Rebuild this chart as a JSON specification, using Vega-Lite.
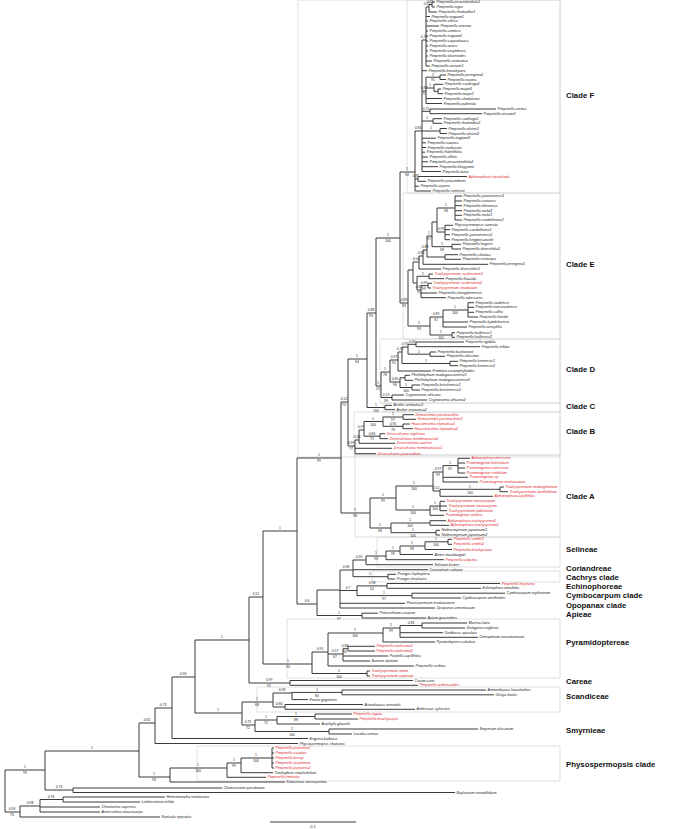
{
"$schema":"https://vega.github.io/schema/vega-lite/v6.json",
"width":685,"height":829,"autosize":"none","padding":0,"background":"white",
"config":{"view":{"stroke":null},"font":"Liberation Sans"},
"datasets":{
"bx":[
{"x":298,"x2":560,"y":0,"y2":457},
{"x":407,"x2":560,"y":0,"y2":193},
{"x":403,"x2":560,"y":193,"y2":339},
{"x":380,"x2":560,"y":339,"y2":403},
{"x":383,"x2":560,"y":403,"y2":412},
{"x":354,"x2":560,"y":412,"y2":455},
{"x":355,"x2":560,"y":455,"y2":537},
{"x":377,"x2":560,"y":537,"y2":567},
{"x":372,"x2":560,"y":571,"y2":582},
{"x":287,"x2":560,"y":619,"y2":678},
{"x":257,"x2":560,"y":687,"y2":712},
{"x":197,"x2":560,"y":746,"y2":781}
],
"v":[
{"x":5,"a":770,"b":812},{"x":45,"a":751,"b":790},{"x":139,"a":723,"b":777},{"x":155,"a":708,"b":743.5},
{"x":172,"a":677,"b":738.5},{"x":195,"a":640,"b":713},{"x":249,"a":597,"b":683},{"x":263,"a":531,"b":664},
{"x":297,"a":458,"b":604},{"x":341,"a":402,"b":513},{"x":348,"a":359,"b":446},{"x":367,"a":313,"b":407.5},
{"x":376,"a":238,"b":386},{"x":400,"a":172,"b":303},
{"x":415,"a":131,"b":191},{"x":418,"a":176.5,"b":181.3},{"x":422,"a":40,"b":171.5},{"x":426,"a":7,"b":66},
{"x":429,"a":4.5,"b":12},{"x":432,"a":2,"b":7},{"x":426,"a":77.2,"b":103.5},{"x":440,"a":75,"b":79.5},
{"x":434,"a":84.3,"b":91.3},{"x":438,"a":89,"b":93.7},{"x":430,"a":109,"b":113.7},{"x":433,"a":118.7,"b":123.3},
{"x":440,"a":128.5,"b":133.5},
{"x":408,"a":270,"b":326},{"x":413,"a":262,"b":283},{"x":419,"a":256,"b":269},{"x":423,"a":250,"b":264.3},
{"x":427,"a":236,"b":257},{"x":445,"a":254.7,"b":259.3},{"x":432,"a":222,"b":246.7},{"x":452,"a":244.3,"b":249},
{"x":437,"a":208,"b":232},{"x":455,"a":196,"b":220},{"x":445,"a":225.3,"b":239.7},{"x":417,"a":276.3,"b":290},
{"x":429,"a":274,"b":278.7},{"x":421,"a":285.6,"b":297.7},{"x":428,"a":283.3,"b":288},{"x":430,"a":317,"b":335},
{"x":443,"a":310,"b":327},{"x":468,"a":302.7,"b":317},{"x":452,"a":332.7,"b":337.3},
{"x":381,"a":372,"b":397.5},{"x":390,"a":360,"b":382},{"x":398,"a":352,"b":371},{"x":402,"a":347,"b":363.5},
{"x":408,"a":344.3,"b":354.2},{"x":416,"a":342,"b":346.7},{"x":430,"a":352,"b":356.3},{"x":450,"a":361.3,"b":365.7},
{"x":400,"a":377.8,"b":387.5},{"x":405,"a":375.3,"b":380.3},{"x":412,"a":385,"b":390},{"x":392,"a":395,"b":400},
{"x":385,"a":405.3,"b":409.7},
{"x":355,"a":440,"b":453.7},{"x":359,"a":430,"b":443.3},{"x":364,"a":421.5,"b":436.2},{"x":383,"a":417,"b":426.3},
{"x":403,"a":414.7,"b":419.3},{"x":403,"a":424,"b":428.7},{"x":380,"a":433.7,"b":438.7},
{"x":370,"a":498,"b":528},{"x":396,"a":486,"b":510},{"x":433,"a":472,"b":491},{"x":443,"a":465.6,"b":482},
{"x":458,"a":458.3,"b":473},{"x":440,"a":489.3,"b":496.3},{"x":500,"a":487,"b":491.7},{"x":430,"a":506,"b":515.3},
{"x":440,"a":501.3,"b":510.7},{"x":391,"a":523,"b":532.7},{"x":430,"a":520.7,"b":525.3},{"x":436,"a":530.3,"b":535},
{"x":317,"a":590,"b":615.5},{"x":340,"a":570,"b":608},{"x":353,"a":560,"b":576.7},{"x":366,"a":556,"b":564.7},
{"x":386,"a":551,"b":559.7},{"x":400,"a":546,"b":554.5},{"x":425,"a":541.8,"b":549.5},{"x":448,"a":539.3,"b":544.3},
{"x":388,"a":574.3,"b":579},{"x":357,"a":585.9,"b":595.6},{"x":387,"a":583.5,"b":588.3},{"x":412,"a":593.2,"b":598},
{"x":362,"a":613.2,"b":618},
{"x":312,"a":652,"b":673.5},{"x":367,"a":671,"b":676},{"x":328,"a":633,"b":666},{"x":383,"a":628,"b":642},
{"x":400,"a":625.5,"b":637.3},{"x":422,"a":623,"b":628},{"x":343,"a":648.7,"b":661},{"x":348,"a":646.3,"b":651},
{"x":290,"a":680.5,"b":685.3},{"x":242,"a":702,"b":725},{"x":273,"a":693,"b":707},{"x":292,"a":692.4,"b":699.6},
{"x":342,"a":690,"b":694.8},{"x":285,"a":704.5,"b":709.3},{"x":255,"a":720,"b":731.5},{"x":277,"a":716.5,"b":724},
{"x":315,"a":714,"b":719},{"x":329,"a":729,"b":734},
{"x":170,"a":768,"b":782},{"x":227,"a":763,"b":777.3},{"x":241,"a":758,"b":772.7},{"x":272,"a":748,"b":768},
{"x":73,"a":788,"b":792.5},{"x":20,"a":806,"b":817},{"x":40,"a":799.5,"b":812},{"x":63,"a":797,"b":802}
],
"h":[
{"a":5,"b":45,"y":770},{"a":45,"b":139,"y":751},{"a":139,"b":155,"y":723},{"a":155,"b":172,"y":708},
{"a":172,"b":195,"y":677},{"a":195,"b":249,"y":640},{"a":249,"b":263,"y":597},{"a":263,"b":297,"y":531},
{"a":297,"b":341,"y":458},{"a":341,"b":348,"y":402},{"a":348,"b":367,"y":359},{"a":367,"b":376,"y":313},
{"a":376,"b":400,"y":238},{"a":400,"b":415,"y":172},{"a":415,"b":418,"y":178.9},{"a":415,"b":422,"y":131},
{"a":422,"b":426,"y":40},{"a":426,"b":429,"y":7},{"a":429,"b":432,"y":4.5},{"a":422,"b":426,"y":91},
{"a":426,"b":440,"y":77.2},{"a":426,"b":434,"y":88},{"a":434,"b":438,"y":91.3},{"a":422,"b":430,"y":111.3},
{"a":422,"b":433,"y":121},{"a":422,"b":440,"y":131},
{"a":400,"b":408,"y":303},{"a":408,"b":413,"y":270},{"a":413,"b":419,"y":262},{"a":419,"b":423,"y":256},
{"a":423,"b":427,"y":250},{"a":427,"b":445,"y":257},{"a":427,"b":432,"y":236},{"a":432,"b":452,"y":246.7},
{"a":432,"b":437,"y":222},{"a":437,"b":455,"y":208},{"a":437,"b":445,"y":232},{"a":413,"b":417,"y":283},
{"a":417,"b":429,"y":276.3},{"a":417,"b":421,"y":290},{"a":421,"b":428,"y":285.6},{"a":408,"b":430,"y":326},
{"a":430,"b":443,"y":317},{"a":443,"b":468,"y":310},{"a":430,"b":452,"y":335},
{"a":376,"b":381,"y":386},{"a":381,"b":390,"y":372},{"a":390,"b":398,"y":360},{"a":398,"b":402,"y":352},
{"a":402,"b":408,"y":347},{"a":408,"b":416,"y":344.3},{"a":408,"b":430,"y":354.2},{"a":402,"b":450,"y":363.5},
{"a":390,"b":400,"y":382},{"a":400,"b":405,"y":377.8},{"a":400,"b":412,"y":387.5},{"a":381,"b":392,"y":397.5},
{"a":367,"b":385,"y":407.5},
{"a":348,"b":355,"y":446},{"a":355,"b":359,"y":440},{"a":359,"b":364,"y":430},{"a":364,"b":383,"y":421.5},
{"a":383,"b":403,"y":417},{"a":383,"b":403,"y":426.3},{"a":364,"b":380,"y":436.2},
{"a":341,"b":370,"y":513},{"a":370,"b":396,"y":498},{"a":396,"b":433,"y":486},{"a":433,"b":443,"y":472},
{"a":443,"b":458,"y":465.6},{"a":433,"b":440,"y":491},{"a":440,"b":500,"y":489.3},{"a":396,"b":430,"y":510},
{"a":430,"b":440,"y":506},{"a":370,"b":391,"y":528},{"a":391,"b":430,"y":523},{"a":391,"b":436,"y":532.7},
{"a":297,"b":317,"y":604},{"a":317,"b":340,"y":590},{"a":340,"b":353,"y":570},{"a":353,"b":366,"y":560},
{"a":366,"b":386,"y":556},{"a":386,"b":400,"y":551},{"a":400,"b":425,"y":546},{"a":425,"b":448,"y":541.8},
{"a":353,"b":388,"y":576.7},{"a":340,"b":357,"y":590.5},{"a":357,"b":387,"y":585.9},{"a":357,"b":412,"y":595.6},
{"a":317,"b":362,"y":615.5},
{"a":263,"b":312,"y":664},{"a":312,"b":367,"y":673.5},{"a":312,"b":328,"y":652},{"a":328,"b":383,"y":633},
{"a":383,"b":400,"y":628},{"a":400,"b":422,"y":625.5},{"a":328,"b":343,"y":654},{"a":343,"b":348,"y":648.7},
{"a":249,"b":290,"y":683},{"a":195,"b":242,"y":713},{"a":242,"b":273,"y":702},{"a":273,"b":292,"y":693},
{"a":292,"b":342,"y":692.4},{"a":273,"b":285,"y":707},{"a":242,"b":255,"y":725},{"a":255,"b":277,"y":720},
{"a":277,"b":315,"y":716.5},{"a":255,"b":329,"y":731.5},
{"a":139,"b":170,"y":777},{"a":170,"b":227,"y":768},{"a":227,"b":241,"y":763},{"a":241,"b":272,"y":758},
{"a":45,"b":73,"y":790},{"a":5,"b":20,"y":812},{"a":20,"b":40,"y":806},{"a":40,"b":63,"y":799.5}
],
"t":[
{"p":432,"x":435,"y":2,"n":"Pimpinella peucedanifolia1","r":0},
{"p":432,"x":435,"y":7,"n":"Pimpinella nigra","r":0},
{"p":429,"x":437,"y":12,"n":"Pimpinella rhodantha1","r":0},
{"p":426,"x":430,"y":16.5,"n":"Pimpinella tragium1","r":0},
{"p":426,"x":428,"y":21,"n":"Pimpinella villosa","r":0},
{"p":426,"x":439,"y":26,"n":"Pimpinella armena","r":0},
{"p":426,"x":428,"y":31,"n":"Pimpinella confusa","r":0},
{"p":426,"x":428,"y":36,"n":"Pimpinella tragium2","r":0},
{"p":426,"x":428,"y":41,"n":"Pimpinella cappadocica","r":0},
{"p":426,"x":428,"y":46,"n":"Pimpinella aurea","r":0},
{"p":426,"x":428,"y":51,"n":"Pimpinella corymbosa","r":0},
{"p":426,"x":428,"y":56,"n":"Pimpinella olivieroides","r":0},
{"p":426,"x":432,"y":61,"n":"Pimpinella aromatica","r":0},
{"p":426,"x":430,"y":66,"n":"Pimpinella anisum1","r":0},
{"p":422,"x":427,"y":70.7,"n":"Pimpinella kotschyana","r":0},
{"p":440,"x":446,"y":75,"n":"Pimpinella peregrina2","r":0},
{"p":440,"x":446,"y":79.5,"n":"Pimpinella euxina","r":0},
{"p":434,"x":443,"y":84.3,"n":"Pimpinella saxifraga2","r":0},
{"p":438,"x":441,"y":89,"n":"Pimpinella major3","r":0},
{"p":438,"x":443,"y":93.7,"n":"Pimpinella major1","r":0},
{"p":426,"x":442,"y":98.5,"n":"Pimpinella chodatiana","r":0},
{"p":426,"x":442,"y":103.5,"n":"Pimpinella puberula","r":0},
{"p":430,"x":496,"y":109,"n":"Pimpinella cretica","r":0},
{"p":430,"x":482,"y":113.7,"n":"Pimpinella anisum2","r":0},
{"p":433,"x":442,"y":118.7,"n":"Pimpinella saxifraga1","r":0},
{"p":433,"x":442,"y":123.3,"n":"Pimpinella rhodantha2","r":0},
{"p":440,"x":447,"y":128.5,"n":"Pimpinella olivieri1","r":0},
{"p":440,"x":447,"y":133.5,"n":"Pimpinella olivieri2","r":0},
{"p":422,"x":436,"y":138.2,"n":"Pimpinella tragium3","r":0},
{"p":422,"x":426,"y":142.8,"n":"Pimpinella isaurica","r":0},
{"p":422,"x":426,"y":147.5,"n":"Pimpinella nudicaulis","r":0},
{"p":422,"x":425,"y":152.2,"n":"Pimpinella flabellifolia","r":0},
{"p":422,"x":428,"y":157,"n":"Pimpinella affinis","r":0},
{"p":422,"x":428,"y":161.8,"n":"Pimpinella peucedanifolia2","r":0},
{"p":422,"x":438,"y":166.7,"n":"Pimpinella khayyamii","r":0},
{"p":422,"x":441,"y":171.5,"n":"Pimpinella lutea","r":0},
{"p":418,"x":467,"y":176.5,"n":"Aphanopleura leptoclada","r":1},
{"p":418,"x":426,"y":181.3,"n":"Pimpinella procumbens","r":0},
{"p":415,"x":419,"y":186.2,"n":"Pimpinella aspera","r":0},
{"p":415,"x":431,"y":191,"n":"Pimpinella sintenisii","r":0},
{"p":455,"x":462,"y":196,"n":"Pimpinella yunnanensis1","r":0},
{"p":455,"x":462,"y":201,"n":"Pimpinella coriacea","r":0},
{"p":455,"x":462,"y":205.7,"n":"Pimpinella tibetanica","r":0},
{"p":455,"x":462,"y":210.7,"n":"Pimpinella rockii2","r":0},
{"p":455,"x":462,"y":215.3,"n":"Pimpinella rockii1","r":0},
{"p":455,"x":462,"y":220,"n":"Pimpinella candolleana2","r":0},
{"p":445,"x":453,"y":225.3,"n":"Physospermopsis cuneata","r":0},
{"p":445,"x":450,"y":229.7,"n":"Pimpinella candolleana1","r":0},
{"p":445,"x":450,"y":234.7,"n":"Pimpinella yunnanensis2","r":0},
{"p":445,"x":450,"y":239.7,"n":"Pimpinella kingdon-wardii","r":0},
{"p":452,"x":461,"y":244.3,"n":"Pimpinella fargesii","r":0},
{"p":452,"x":461,"y":249,"n":"Pimpinella diversifolia2","r":0},
{"p":445,"x":458,"y":254.7,"n":"Pimpinella silvatica","r":0},
{"p":445,"x":461,"y":259.3,"n":"Pimpinella eriocarpa","r":0},
{"p":423,"x":488,"y":264.3,"n":"Pimpinella peregrina1","r":0},
{"p":419,"x":441,"y":269,"n":"Pimpinella diversifolia1","r":0},
{"p":429,"x":433,"y":274,"n":"Trachyspermum scaberulum1","r":1},
{"p":429,"x":444,"y":278.7,"n":"Pimpinella flaccida","r":0},
{"p":428,"x":432,"y":283.3,"n":"Trachyspermum scaberulum2","r":1},
{"p":428,"x":431,"y":288,"n":"Trachyspermum triradiatum","r":1},
{"p":421,"x":437,"y":293,"n":"Pimpinella chungdienensis","r":0},
{"p":421,"x":446,"y":297.7,"n":"Pimpinella rubescens","r":0},
{"p":468,"x":474,"y":302.7,"n":"Pimpinella stadensis","r":0},
{"p":468,"x":474,"y":307.3,"n":"Pimpinella transvaalensis","r":0},
{"p":468,"x":474,"y":312.3,"n":"Pimpinella caffra","r":0},
{"p":468,"x":478,"y":317,"n":"Pimpinella krookii","r":0},
{"p":443,"x":468,"y":322,"n":"Pimpinella kyimbilaensis","r":0},
{"p":443,"x":467,"y":327,"n":"Pimpinella oreophila","r":0},
{"p":452,"x":455,"y":332.7,"n":"Pimpinella huillensis1","r":0},
{"p":452,"x":455,"y":337.3,"n":"Pimpinella huillensis2","r":0},
{"p":416,"x":464,"y":342,"n":"Pimpinella rigidula","r":0},
{"p":416,"x":480,"y":346.7,"n":"Pimpinella inflata","r":0},
{"p":430,"x":436,"y":352,"n":"Pimpinella buchananii","r":0},
{"p":430,"x":445,"y":356.3,"n":"Pimpinella altissima","r":0},
{"p":450,"x":458,"y":361.3,"n":"Pimpinella keniensis1","r":0},
{"p":450,"x":458,"y":365.7,"n":"Pimpinella keniensis2","r":0},
{"p":398,"x":431,"y":371,"n":"Frommia ceratophylloides","r":0},
{"p":405,"x":410,"y":375.3,"n":"Phellolophium madagascariense1","r":0},
{"p":405,"x":413,"y":380.3,"n":"Phellolophium madagascariense2","r":0},
{"p":412,"x":420,"y":385,"n":"Pimpinella betsileensis1","r":0},
{"p":412,"x":420,"y":390,"n":"Pimpinella betsileensis2","r":0},
{"p":392,"x":404,"y":395,"n":"Cryptotaenia africana","r":0},
{"p":392,"x":427,"y":400,"n":"Cryptotaenia africana2","r":0},
{"p":385,"x":392,"y":405.3,"n":"Arafoe aromatica1","r":0},
{"p":385,"x":395,"y":409.7,"n":"Arafoe aromatica2","r":0},
{"p":403,"x":414,"y":414.7,"n":"Demavendia pastinacifolia","r":1},
{"p":403,"x":416,"y":419.3,"n":"Demavendia pastinacifolia2","r":1},
{"p":403,"x":410,"y":424,"n":"Haussknechtia elymaitica1","r":1},
{"p":403,"x":413,"y":428.7,"n":"Haussknechtia elymaitica2","r":1},
{"p":380,"x":385,"y":433.7,"n":"Zeravschania regeliana","r":1},
{"p":380,"x":388,"y":438.7,"n":"Zeravschania membranacea2","r":1},
{"p":359,"x":395,"y":443.3,"n":"Zeravschania aucheri","r":1},
{"p":355,"x":392,"y":448.3,"n":"Zeravschania membranacea1","r":1},
{"p":355,"x":376,"y":453.7,"n":"Zeravschania pauciradiata","r":1},
{"p":458,"x":470,"y":458.3,"n":"Aphanopleura breviseta","r":1},
{"p":458,"x":465,"y":463,"n":"Psammogeton biternatum","r":1},
{"p":458,"x":465,"y":468,"n":"Psammogeton canescens","r":1},
{"p":458,"x":465,"y":473,"n":"Psammogeton setifolium","r":1},
{"p":443,"x":468,"y":477.3,"n":"Psammogeton sp.","r":1},
{"p":443,"x":478,"y":482,"n":"Psammogeton involucratum","r":1},
{"p":500,"x":504,"y":487,"n":"Trachyspermum roxburghianum","r":1},
{"p":500,"x":508,"y":491.7,"n":"Trachyspermum anethifolium","r":1},
{"p":440,"x":493,"y":496.3,"n":"Aphanopleura capillifolia","r":1},
{"p":440,"x":445,"y":501.3,"n":"Trachyspermum microcarpum","r":1},
{"p":440,"x":447,"y":506,"n":"Trachyspermum stictocarpum","r":1},
{"p":440,"x":447,"y":510.7,"n":"Trachyspermum paktianum","r":1},
{"p":430,"x":444,"y":515.3,"n":"Psammogeton stocksii","r":1},
{"p":430,"x":446,"y":520.7,"n":"Aphanopleura trachysperma2","r":1},
{"p":430,"x":449,"y":525.3,"n":"Aphanopleura trachysperma1","r":1},
{"p":436,"x":440,"y":530.3,"n":"Nothosmyrnium japonicum1","r":0},
{"p":436,"x":440,"y":535,"n":"Nothosmyrnium japonicum2","r":0},
{"p":448,"x":452,"y":539.3,"n":"Pimpinella smithii1","r":1},
{"p":448,"x":452,"y":544.3,"n":"Pimpinella smithii2","r":1},
{"p":425,"x":452,"y":549.5,"n":"Pimpinella brachycarpa","r":1},
{"p":400,"x":433,"y":554.5,"n":"Aletes macdougalii","r":0},
{"p":386,"x":444,"y":559.7,"n":"Pimpinella calycina","r":1},
{"p":366,"x":433,"y":564.7,"n":"Selinum broteri","r":0},
{"p":353,"x":428,"y":569.7,"n":"Coriandrum sativum","r":0},
{"p":388,"x":396,"y":574.3,"n":"Prangos lophoptera","r":0},
{"p":388,"x":395,"y":579,"n":"Prangos ferulacea","r":0},
{"p":387,"x":500,"y":583.5,"n":"Pimpinella heyniana","r":1},
{"p":387,"x":481,"y":588.3,"n":"Echinophora tenuifolia","r":0},
{"p":412,"x":505,"y":593.2,"n":"Cymbocarpum erythraeum","r":0},
{"p":412,"x":461,"y":598,"n":"Cymbocarpum anethoides","r":0},
{"p":340,"x":405,"y":603.3,"n":"Pleurospermum involucratum","r":0},
{"p":340,"x":435,"y":608,"n":"Opopanax armeniacum","r":0},
{"p":362,"x":378,"y":613.2,"n":"Petroselinum crispum","r":0},
{"p":362,"x":426,"y":618,"n":"Apium graveolens","r":0},
{"p":422,"x":467,"y":623,"n":"Muretia lutea","r":0},
{"p":422,"x":465,"y":628,"n":"Galagania neglecta","r":0},
{"p":400,"x":443,"y":632.7,"n":"Oedibasis apiculata","r":0},
{"p":400,"x":478,"y":637.3,"n":"Ormopterum turcomanicum","r":0},
{"p":383,"x":435,"y":642,"n":"Pyramidoptera cabulica","r":0},
{"p":348,"x":375,"y":646.3,"n":"Pimpinella aitchisonii1","r":1},
{"p":348,"x":375,"y":651,"n":"Pimpinella aitchisonii2","r":1},
{"p":343,"x":388,"y":656,"n":"Postiella capillifolia","r":0},
{"p":343,"x":370,"y":661,"n":"Bunium alpinum","r":0},
{"p":328,"x":414,"y":666,"n":"Pimpinella serbica","r":0},
{"p":367,"x":370,"y":671,"n":"Trachyspermum ammi","r":1},
{"p":367,"x":370,"y":676,"n":"Trachyspermum copticum","r":1},
{"p":290,"x":413,"y":680.5,"n":"Carum carvi","r":0},
{"p":290,"x":418,"y":685.3,"n":"Pimpinella anthriscoides","r":1},
{"p":342,"x":486,"y":690,"n":"Ammodaucus leucotrichus","r":0},
{"p":342,"x":494,"y":694.8,"n":"Orlaya kochii","r":0},
{"p":292,"x":308,"y":699.6,"n":"Ferula grigorievii","r":0},
{"p":285,"x":363,"y":704.5,"n":"Astrodaucus orientalis","r":0},
{"p":285,"x":415,"y":709.3,"n":"Anthriscus sylvestris","r":0},
{"p":315,"x":352,"y":714,"n":"Pimpinella arguta","r":1},
{"p":315,"x":358,"y":719,"n":"Pimpinella brachycarpa","r":1},
{"p":277,"x":320,"y":724,"n":"Aciphylla glacialis","r":0},
{"p":329,"x":478,"y":729,"n":"Smyrnium olusatrum","r":0},
{"p":329,"x":352,"y":734,"n":"Lecokia cretica","r":0},
{"p":172,"x":308,"y":738.5,"n":"Erigenia bulbosa","r":0},
{"p":155,"x":298,"y":743.5,"n":"Physospermopsis shaniana","r":0},
{"p":272,"x":274,"y":748,"n":"Pimpinella purpurea1","r":1},
{"p":272,"x":274,"y":753,"n":"Pimpinella caudata","r":1},
{"p":272,"x":274,"y":758,"n":"Pimpinella henryi","r":1},
{"p":272,"x":274,"y":763,"n":"Pimpinella acuminata","r":1},
{"p":272,"x":274,"y":768,"n":"Pimpinella purpurea2","r":1},
{"p":241,"x":273,"y":772.7,"n":"Trachydium simplicifolium","r":0},
{"p":227,"x":266,"y":777.3,"n":"Pimpinella fimbriata","r":1},
{"p":170,"x":285,"y":782,"n":"Komarovia anisosperma","r":0},
{"p":73,"x":222,"y":788,"n":"Chamaesium paradoxum","r":0},
{"p":73,"x":455,"y":792.5,"n":"Bupleurum rotundifolium","r":0},
{"p":63,"x":165,"y":797,"n":"Heteromorpha involucrata","r":0},
{"p":63,"x":140,"y":802,"n":"Lichtensteinia trifida","r":0},
{"p":40,"x":100,"y":807,"n":"Choritaenia capensis","r":0},
{"p":40,"x":100,"y":812,"n":"Annesorhiza macrocarpa","r":0},
{"p":20,"x":160,"y":817,"n":"Sanicula epipactis","r":0}
],
"l":[
{"x":25,"y":770,"p":"1","b":"99"},{"x":92,"y":751,"p":"1","b":""},{"x":59,"y":790,"p":"0.73","b":""},
{"x":147,"y":723,"p":"0.82","b":""},{"x":163,"y":708,"p":"0.73","b":""},{"x":183,"y":677,"p":"0.96","b":""},
{"x":222,"y":640,"p":"1","b":""},{"x":218,"y":713,"p":"1","b":""},{"x":256,"y":597,"p":"0.51","b":""},
{"x":269,"y":683,"p":"0.99","b":"92"},{"x":280,"y":531,"p":"1","b":""},{"x":288,"y":664,"p":"1","b":"94"},
{"x":319,"y":458,"p":"1","b":"99"},{"x":307,"y":604,"p":"0.6","b":""},{"x":344,"y":402,"p":"0.52","b":"73"},
{"x":355,"y":513,"p":"1","b":"98"},{"x":357,"y":359,"p":"1","b":"94"},{"x":351,"y":446,"p":"0.99","b":"77"},
{"x":371,"y":313,"p":"0.88","b":"93"},{"x":376,"y":407.5,"p":"1","b":"100"},{"x":388,"y":238,"p":"1","b":"100"},
{"x":378,"y":386,"p":"1","b":"25"},{"x":407,"y":172,"p":"1","b":"94"},{"x":404,"y":303,"p":"0.89","b":"93"},
{"x":418,"y":131,"p":"0.84","b":""},{"x":416,"y":178.9,"p":"0.81","b":""},{"x":424,"y":40,"p":"0.71","b":""},
{"x":427,"y":7,"p":"0.52","b":""},{"x":430,"y":4.5,"p":"0.99","b":""},{"x":424,"y":91,"p":"0.87","b":"72"},
{"x":433,"y":77.2,"p":"1","b":"95"},{"x":430,"y":88,"p":"1","b":""},{"x":426,"y":111.3,"p":"0.75","b":""},
{"x":427,"y":121,"p":"1","b":""},{"x":431,"y":131,"p":"1","b":""},
{"x":419,"y":326,"p":"1","b":"93"},{"x":436,"y":317,"p":"0.89","b":"92"},{"x":455,"y":310,"p":"1","b":"100"},
{"x":441,"y":335,"p":"1","b":"100"},{"x":416,"y":262,"p":"0.54","b":""},{"x":421,"y":256,"p":"0.83","b":""},
{"x":425,"y":250,"p":"0.88","b":""},{"x":429,"y":236,"p":"1","b":"97"},{"x":442,"y":246.7,"p":"1","b":"98"},
{"x":446,"y":208,"p":"1","b":"98"},{"x":441,"y":232,"p":"0.95","b":""},{"x":423,"y":276.3,"p":"1","b":""},
{"x":419,"y":290,"p":"0.87","b":"71"},{"x":424,"y":285.6,"p":"0.99","b":"99"},
{"x":385,"y":372,"p":"1","b":"78"},{"x":394,"y":360,"p":"0.97","b":"91"},{"x":400,"y":352,"p":"0.75","b":""},
{"x":405,"y":347,"p":"0.95","b":""},{"x":412,"y":344.3,"p":"0.68","b":""},{"x":419,"y":354.2,"p":"1","b":""},
{"x":426,"y":363.5,"p":"1","b":""},{"x":395,"y":382,"p":"0.85","b":"96"},{"x":406,"y":387.5,"p":"1","b":"100"},
{"x":386,"y":397.5,"p":"0.13","b":"99"},
{"x":357,"y":440,"p":"0.56","b":""},{"x":361,"y":430,"p":"0.97","b":""},{"x":373,"y":421.5,"p":"1","b":"100"},
{"x":393,"y":417,"p":"1","b":"97"},{"x":393,"y":426.3,"p":"0.95","b":"76"},{"x":372,"y":436.2,"p":"0.85","b":"71"},
{"x":383,"y":498,"p":"1","b":"99"},{"x":414,"y":486,"p":"1","b":"100"},{"x":413,"y":510,"p":"1","b":"100"},
{"x":380,"y":528,"p":"1","b":"98"},{"x":410,"y":523,"p":"1","b":"100"},{"x":413,"y":532.7,"p":"1","b":"100"},
{"x":438,"y":472,"p":"0.97","b":"99"},{"x":450,"y":465.6,"p":"1","b":"92"},{"x":436,"y":491,"p":"0.52","b":""},
{"x":470,"y":489.3,"p":"1","b":"100"},{"x":435,"y":506,"p":"1","b":"100"},
{"x":348,"y":590.5,"p":"0.7","b":""},{"x":346,"y":570,"p":"0.96","b":""},{"x":359,"y":560,"p":"0.59","b":""},
{"x":376,"y":556,"p":"1","b":"93"},{"x":393,"y":551,"p":"1","b":"99"},{"x":412,"y":546,"p":"1","b":"98"},
{"x":436,"y":541.8,"p":"1","b":"100"},{"x":370,"y":576.7,"p":"1","b":""},{"x":372,"y":585.9,"p":"0.98","b":"54"},
{"x":384,"y":595.6,"p":"1","b":"97"},{"x":339,"y":615.5,"p":"1","b":"97"},
{"x":320,"y":652,"p":"0.91","b":""},{"x":339,"y":673.5,"p":"1","b":"100"},{"x":355,"y":633,"p":"1","b":"100"},
{"x":391,"y":628,"p":"1","b":"99"},{"x":411,"y":625.5,"p":"0.83","b":""},{"x":335,"y":654,"p":"0.57","b":"67"},
{"x":345,"y":648.7,"p":"0.88","b":"90"},
{"x":257,"y":702,"p":"1","b":"68"},{"x":282,"y":693,"p":"0.98","b":""},{"x":317,"y":692.4,"p":"1","b":"80"},
{"x":279,"y":707,"p":"0.86","b":""},{"x":248,"y":725,"p":"0.75","b":"72"},{"x":266,"y":720,"p":"1","b":"72"},
{"x":296,"y":716.5,"p":"1","b":"88"},{"x":292,"y":731.5,"p":"1","b":"100"},
{"x":154,"y":777,"p":"1","b":"93"},{"x":198,"y":768,"p":"1","b":"100"},{"x":234,"y":763,"p":"1","b":"99"},
{"x":256,"y":758,"p":"1","b":"100"},{"x":12,"y":812,"p":"0.99","b":"70"},{"x":30,"y":806,"p":"0.98","b":""},
{"x":51,"y":799.5,"p":"0.76","b":""}
],
"c":[
{"y":96,"n":"Clade F"},{"y":265,"n":"Clade E"},{"y":370,"n":"Clade D"},{"y":407,"n":"Clade C"},
{"y":432,"n":"Clade B"},{"y":497,"n":"Clade A"},{"y":550,"n":"Selineae"},{"y":569,"n":"Coriandreae"},
{"y":578,"n":"Cachrys clade"},{"y":587,"n":"Echinophoreae"},{"y":596,"n":"Cymbocarpum clade"},
{"y":605.5,"n":"Opopanax clade"},{"y":615,"n":"Apieae"},{"y":643,"n":"Pyramidoptereae"},{"y":682,"n":"Careae"},
{"y":697,"n":"Scandiceae"},{"y":731,"n":"Smyrnieae"},{"y":765,"n":"Physospermopsis clade"}
],
"sb":[{"a":270,"b":356,"y":822,"t":"0.1","m":313}]
},
"layer":[
{"data":{"name":"bx"},"mark":{"type":"rect","filled":false,"stroke":"#d8d8d8","strokeWidth":0.8},
 "encoding":{"x":{"field":"x","type":"quantitative","scale":{"domain":[0,685],"nice":false,"zero":false},"axis":null},
  "x2":{"field":"x2"},
  "y":{"field":"y","type":"quantitative","scale":{"domain":[0,829],"nice":false,"zero":false,"reverse":true},"axis":null},
  "y2":{"field":"y2"}}},
{"data":{"name":"v"},"mark":{"type":"rule","color":"#3a3a3a","strokeWidth":1},
 "encoding":{"x":{"field":"x","type":"quantitative"},"y":{"field":"a","type":"quantitative"},"y2":{"field":"b"}}},
{"data":{"name":"h"},"mark":{"type":"rule","color":"#3a3a3a","strokeWidth":1},
 "encoding":{"x":{"field":"a","type":"quantitative"},"x2":{"field":"b"},"y":{"field":"y","type":"quantitative"}}},
{"data":{"name":"t"},"mark":{"type":"rule","color":"#3a3a3a","strokeWidth":1},
 "encoding":{"x":{"field":"p","type":"quantitative"},"x2":{"field":"x"},"y":{"field":"y","type":"quantitative"}}},
{"data":{"name":"t"},"mark":{"type":"text","align":"left","baseline":"middle","dx":1.5,"fontSize":3.7,"fontStyle":"italic","font":"Liberation Sans"},
 "encoding":{"x":{"field":"x","type":"quantitative"},"y":{"field":"y","type":"quantitative"},"text":{"field":"n"},
  "color":{"field":"r","type":"nominal","scale":{"domain":[0,1],"range":["#1a1a1a","#e0262b"]},"legend":null}}},
{"data":{"name":"l"},"mark":{"type":"text","align":"center","baseline":"bottom","dy":-0.6,"fontSize":3.4,"fill":"#222","font":"Liberation Sans"},
 "encoding":{"x":{"field":"x","type":"quantitative"},"y":{"field":"y","type":"quantitative"},"text":{"field":"p"}}},
{"data":{"name":"l"},"mark":{"type":"text","align":"center","baseline":"top","dy":1.2,"fontSize":3.4,"fill":"#222","font":"Liberation Sans"},
 "encoding":{"x":{"field":"x","type":"quantitative"},"y":{"field":"y","type":"quantitative"},"text":{"field":"b"}}},
{"data":{"name":"c"},"mark":{"type":"text","align":"left","baseline":"middle","fontSize":7.8,"fontWeight":"bold","fill":"#111","font":"Liberation Sans"},
 "encoding":{"x":{"datum":566,"type":"quantitative"},"y":{"field":"y","type":"quantitative"},"text":{"field":"n"}}},
{"data":{"name":"sb"},"mark":{"type":"rule","color":"#3a3a3a","strokeWidth":1},
 "encoding":{"x":{"field":"a","type":"quantitative"},"x2":{"field":"b"},"y":{"field":"y","type":"quantitative"}}},
{"data":{"name":"sb"},"mark":{"type":"text","baseline":"top","dy":3,"fontSize":4,"fill":"#222"},
 "encoding":{"x":{"field":"m","type":"quantitative"},"y":{"field":"y","type":"quantitative"},"text":{"field":"t"}}}
]
}
